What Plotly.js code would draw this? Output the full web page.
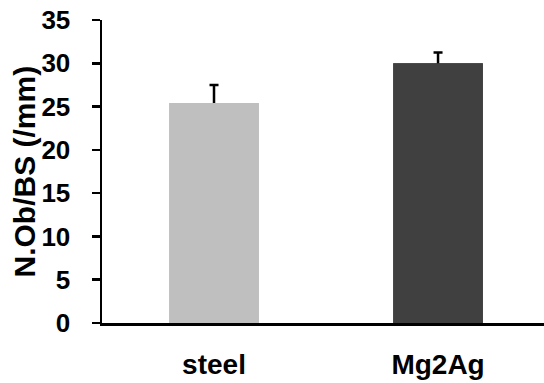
<!DOCTYPE html>
<html>
<head>
<meta charset="utf-8">
<script src="https://cdn.plot.ly/plotly-3.0.1.min.js"></script>
<style>html,body{margin:0;padding:0;background:#fff;}#chart{width:544px;height:383px;}</style>
</head>
<body>
<div id="chart"></div>
<script>
const categories = ["steel", "Mg2Ag"];
const values = [25.4, 30.0];
const errorsPlus = [2.1, 1.25];
const barColors = ["#bfbfbf", "#404040"];
const yTicks = [0, 5, 10, 15, 20, 25, 30, 35];
const yTitle = "N.Ob/BS (/mm)";

const family = "Liberation Sans, Arial, sans-serif";

// bars carrying the error bars (lower part of each error bar is hidden by the bars drawn on top)
const errTrace = {
  type: "bar", x: categories, y: values, width: 0.4,
  marker: {color: barColors, line: {width: 0}},
  error_y: {type: "data", symmetric: false, array: errorsPlus,
    arrayminus: categories.map(() => 3), color: "#000", thickness: 2.5, width: 4.5},
  hoverinfo: "none"
};
const barTrace = {
  type: "bar", x: categories, y: values, width: 0.4,
  marker: {color: barColors, line: {width: 0}}, hoverinfo: "none"
};

const layout = {
  width: 544, height: 383,
  margin: {l: 102, r: 0, t: 20, b: 60},
  paper_bgcolor: "#fff", plot_bgcolor: "#fff",
  showlegend: false, barmode: "overlay",
  xaxis: {
    type: "category", range: [-0.5, 1.473],
    showline: true, linecolor: "#000", linewidth: 2.5,
    ticks: "", showgrid: false, zeroline: false,
    tickfont: {family: family, weight: "bold", size: 28, color: "#000"},
    ticklabelstandoff: 15
  },
  yaxis: {
    range: [0, 35], tickvals: yTicks, ticktext: yTicks.map(String),
    showline: true, linecolor: "#000", linewidth: 2.5,
    ticks: "outside", ticklen: 8, tickwidth: 2.5, tickcolor: "#000",
    showgrid: false, zeroline: false,
    tickfont: {family: family, weight: "bold", size: 26, color: "#000"},
    ticklabelstandoff: 16
  },
  annotations: [{
    text: yTitle, xref: "paper", yref: "paper",
    x: -78 / 442, y: 0.5,
    xanchor: "center", yanchor: "middle", textangle: -90, showarrow: false,
    font: {family: family, weight: "bold", size: 30, color: "#000"}
  }]
};

Plotly.newPlot("chart", [errTrace, barTrace], layout, {displayModeBar: false, staticPlot: true});
</script>
</body>
</html>
